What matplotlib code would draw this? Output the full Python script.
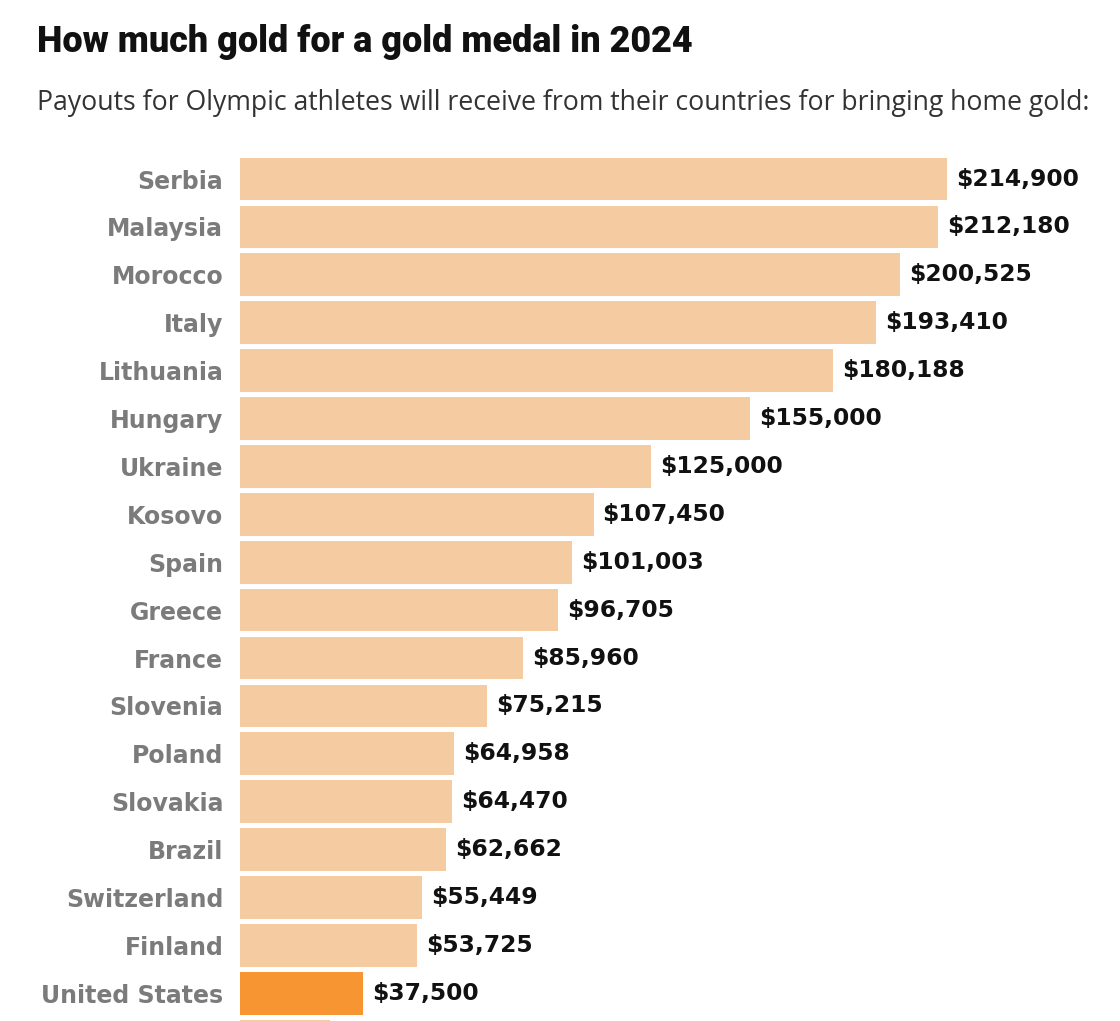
import matplotlib
matplotlib.use("Agg")
import matplotlib.pyplot as plt
import numpy as np

countries = ["Serbia", "Malaysia", "Morocco", "Italy", "Lithuania", "Hungary",
             "Ukraine", "Kosovo", "Spain", "Greece", "France", "Slovenia",
             "Poland", "Slovakia", "Brazil", "Switzerland", "Finland",
             "United States", ""]
payouts = [214900, 212180, 200525, 193410, 180188, 155000, 125000, 107450,
           101003, 96705, 85960, 75215, 64958, 64470, 62662, 55449, 53725,
           37500, 27400]
value_labels = ["$214,900", "$212,180", "$200,525", "$193,410", "$180,188",
                "$155,000", "$125,000", "$107,450", "$101,003", "$96,705",
                "$85,960", "$75,215", "$64,958", "$64,470", "$62,662",
                "$55,449", "$53,725", "$37,500", ""]
highlight = "United States"

LIGHT = "#F5CBA1"
DARK = "#F79532"

W, H = 1120, 1021
fig = plt.figure(figsize=(W / 100, H / 100), dpi=100)
fig.patch.set_facecolor("white")

ax_left, ax_right = 240, 1110
ax_top, ax_bottom = 150, 1021
ax = fig.add_axes([ax_left / W, 1 - ax_bottom / H, (ax_right - ax_left) / W,
                   (ax_bottom - ax_top) / H])

pitch = 47.9
first_center = 179
y = np.arange(len(countries))
colors = [DARK if c == highlight else LIGHT for c in countries]
ax.barh(y, payouts, height=0.89, color=colors, edgecolor="none")

for yi, v, lab in zip(y, payouts, value_labels):
    ax.annotate(lab, (v, yi), xytext=(6.5, 0), textcoords="offset points",
                va="center", ha="left", fontsize=16.8, fontweight="bold",
                color="#111111", family="DejaVu Sans")

ax.set_yticks(y)
ax.set_yticklabels(countries, fontsize=17, fontweight="bold", color="#7b7b7b",
                   family="DejaVu Sans")
ax.tick_params(axis="y", length=0, pad=12)
ax.set_xticks([])
for s in ax.spines.values():
    s.set_visible(False)

xmax = max(payouts) * (ax_right - ax_left) / 707
ax.set_xlim(0, xmax)
ax.set_ylim((ax_bottom - first_center) / pitch, (ax_top - first_center) / pitch)

fig.text(37 / W, 1 - 52 / H, "How much gold for a gold medal in 2024",
         fontsize=25.9, fontweight="black", color="#111111", family="Roboto",
         ha="left", va="baseline")
fig.text(37 / W, 1 - 110 / H,
         "Payouts for Olympic athletes will receive from their countries for bringing home gold:",
         fontsize=19.2, color="#333333", family="Open Sans", ha="left", va="baseline")

fig.savefig("out.png", dpi=100)
